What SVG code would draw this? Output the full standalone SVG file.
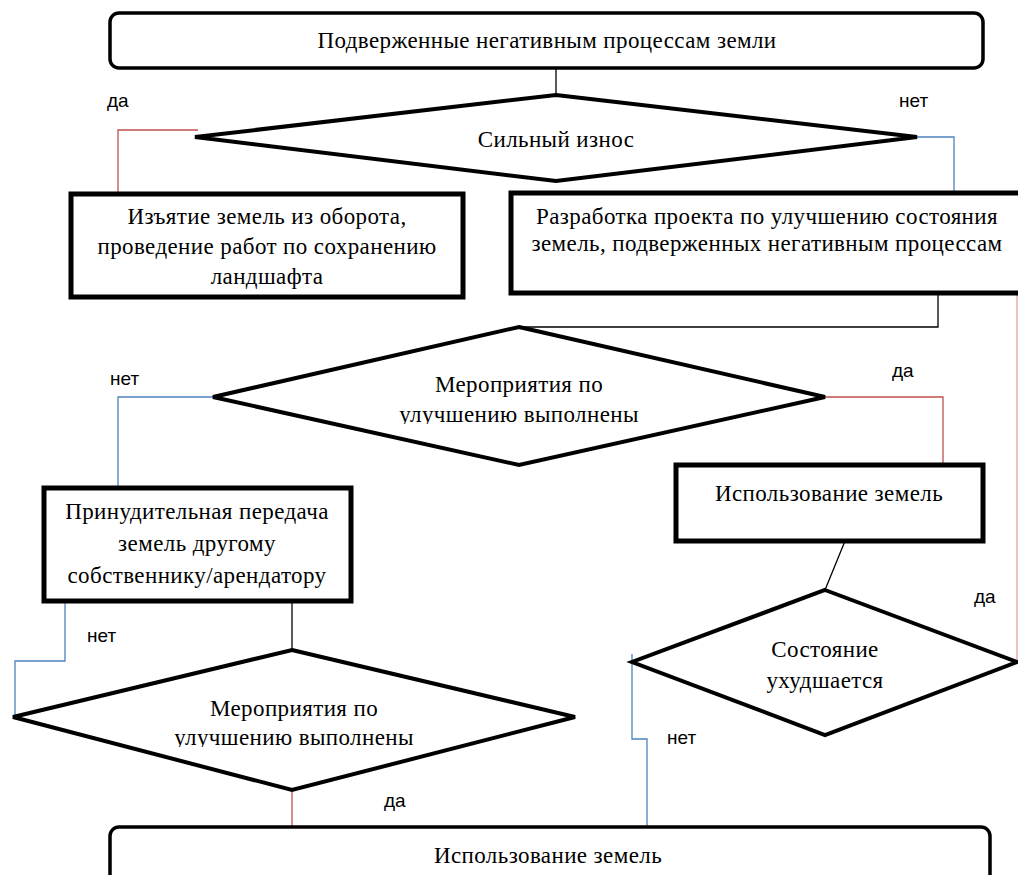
<svg xmlns="http://www.w3.org/2000/svg" width="1018" height="875" viewBox="0 0 1018 875">
<defs>
<style>
.t{font-family:"Liberation Serif","Times New Roman",serif;font-size:23px;letter-spacing:0.4px;fill:#000;text-anchor:middle}
.l{font-family:"Liberation Sans",Arial,sans-serif;font-size:19px;fill:#000}
.rr{fill:#fff;stroke:#000;stroke-width:3.5}
.bx{fill:#fff;stroke:#000;stroke-width:5}
.dm{fill:#fff;stroke:#000;stroke-width:4;stroke-linejoin:miter}
.k{fill:none;stroke:#000;stroke-width:1.3}
.r{fill:none;stroke:#c0504d;stroke-width:1.3}
.b{fill:none;stroke:#4f81bd;stroke-width:1.3}
</style>
<clipPath id="c1"><rect x="200" y="400" width="640" height="24"/></clipPath>
<clipPath id="c2"><rect x="0" y="722" width="600" height="25"/></clipPath>
</defs>
<rect width="1018" height="875" fill="#fff"/>
<g id="connectors">
<path class="k" d="M556,68 V95"/>
<path class="r" d="M198,130 H118 V192"/>
<path class="b" d="M917,137 H954 V191"/>
<path class="k" d="M938,293 V327 H519"/>
<path class="b" d="M213,397 H118 V488"/>
<path class="r" d="M825,397 H943 V464"/>
<path class="k" d="M845,541 L825,590"/>
<path class="r" d="M1017,662 V294" style="stroke:#e0a0a0"/>
<path class="b" d="M632,654 V739 H647 V827"/>
<path class="k" d="M292,601 V650"/>
<path class="b" d="M65,601 V661 H15 V717"/>
<path class="r" d="M292,790 V827"/>
</g>
<g id="n-start">
<rect class="rr" x="110" y="13" width="873" height="55" rx="9"/>
<text class="t" x="547" y="48">Подверженные негативным процессам земли</text>
</g>
<g id="n-d1">
<polygon class="dm" points="556,95 917,137 556,181 195,137"/>
<text class="t" x="556" y="147">Сильный износ</text>
</g>
<g id="n-withdraw">
<rect class="bx" x="71" y="194" width="392" height="103"/>
<text class="t" x="267" y="224">Изъятие земель из оборота,</text>
<text class="t" x="267" y="254">проведение работ по сохранению</text>
<text class="t" x="267" y="284">ландшафта</text>
</g>
<g id="n-project">
<rect class="bx" x="511" y="193" width="515" height="100"/>
<text class="t" x="767" y="224">Разработка проекта по улучшению состояния</text>
<text class="t" x="767" y="251">земель, подверженных негативным процессам</text>
</g>
<g id="n-d2">
<polygon class="dm" points="519,327 825,397 519,465 213,397"/>
<text class="t" x="519" y="392">Мероприятия по</text>
<text class="t" x="519" y="422" clip-path="url(#c1)">улучшению выполнены</text>
</g>
<g id="n-transfer">
<rect class="bx" x="44" y="488" width="307" height="113"/>
<text class="t" x="197" y="519">Принудительная передача</text>
<text class="t" x="197" y="551">земель другому</text>
<text class="t" x="197" y="583">собственнику/арендатору</text>
</g>
<g id="n-use1">
<rect class="bx" x="676" y="465" width="307" height="76"/>
<text class="t" x="829" y="501">Использование земель</text>
</g>
<g id="n-d3">
<polygon class="dm" points="825,590 1017,662 825,735 632,662"/>
<text class="t" x="825" y="657">Состояние</text>
<text class="t" x="825" y="688">ухудшается</text>
</g>
<g id="n-d4">
<polygon class="dm" points="292,650 575,717 292,790 13,717"/>
<text class="t" x="294" y="716">Мероприятия по</text>
<text class="t" x="294" y="745" clip-path="url(#c2)">улучшению выполнены</text>
</g>
<g id="n-end">
<rect class="rr" x="110" y="827" width="880" height="60" rx="9"/>
<text class="t" x="548" y="863">Использование земель</text>
</g>
<g id="labels">
<text class="l" x="107" y="107">да</text>
<text class="l" x="899" y="107">нет</text>
<text class="l" x="110" y="385">нет</text>
<text class="l" x="892" y="377">да</text>
<text class="l" x="974" y="603">да</text>
<text class="l" x="87" y="642">нет</text>
<text class="l" x="667" y="744">нет</text>
<text class="l" x="384" y="807">да</text>
</g>
</svg>
